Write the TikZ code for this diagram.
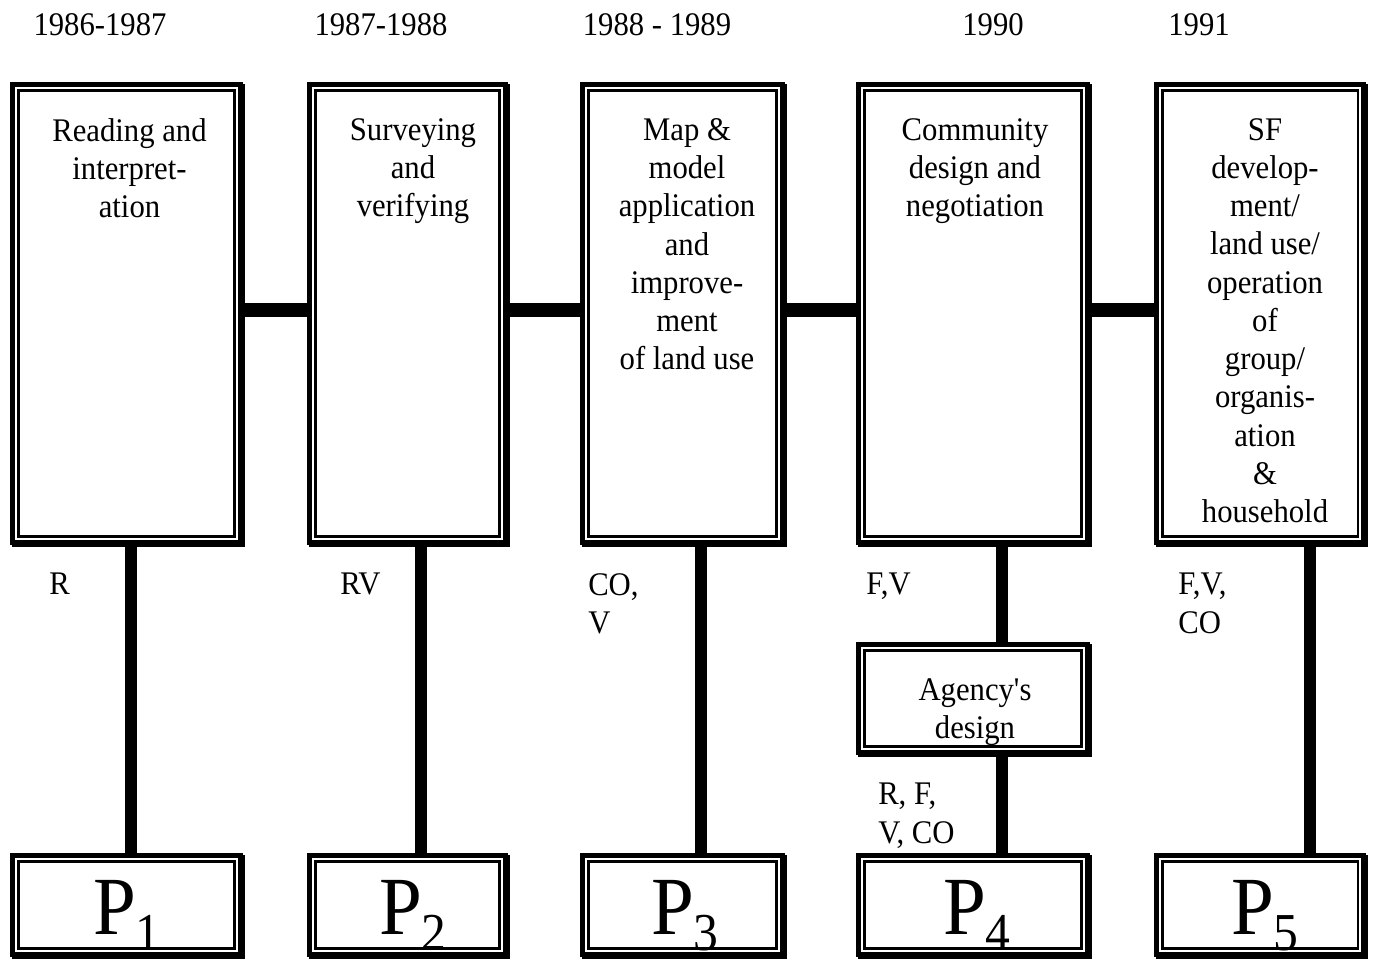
\documentclass[tikz,border=0pt]{standalone}
\usepackage{fontspec}
\newfontfamily\tnr{Liberation Serif}[FakeStretch=0.93]
\usetikzlibrary{calc}
\tikzset{
  boxframe/.style={draw, fill=white, line width=3.75pt, inner sep=0pt, outer sep=0pt, rectangle},
  innerframe/.style={line width=1.9pt},
  hconn/.style={line width=11pt},
  vconn/.style={line width=9pt},
  txt/.style={font=\tnr\fontsize{24.75}{28.7}\selectfont, align=center, inner sep=0pt, anchor=north},
  lbl/.style={font=\tnr\fontsize{24.75}{28.7}\selectfont, align=left, inner sep=0pt, anchor=north west},
  yr/.style={font=\tnr\fontsize{24.75}{28.7}\selectfont, inner sep=0pt},
  ptxt/.style={font=\tnr\fontsize{62}{64}\selectfont, inner sep=0pt, anchor=base},
}
\newcommand\dbox[5]{%
  \fill ({#2+2},{#3+2}) rectangle ({#4},{#5});
  \node[boxframe, minimum width={(#4-#2-2)*0.75pt-3.75pt}, minimum height={(#5-#3-2)*0.75pt-3.75pt}]
    (#1) at ({(#2+#4-2)/2},{(#3+#5-2)/2}) {};
  \draw[innerframe] ($(#1.north west)+(5.75,5.75)$) rectangle ($(#1.south east)+(-5.75,-5.75)$);
}
\newcommand\psub[1]{P\raisebox{-12pt}{\fontsize{40}{42}\selectfont #1}}
\begin{document}
\begin{tikzpicture}[x=0.75pt,y=-0.75pt]
\useasboundingbox (0,0) rectangle (1374,962);
% years
\node[yr] (y1) at (100,24.5) {1986-1987};
\node[yr] (y2) at (381,24.5) {1987-1988};
\node[yr] (y3) at (657,24.5) {1988 - 1989};
\node[yr] (y4) at (993,24.5) {1990};
\node[yr] (y5) at (1199,24.5) {1991};
% top boxes
\dbox{b1}{10}{82}{245}{547}
\dbox{b2}{307}{82}{510}{547}
\dbox{b3}{580}{82}{787}{547}
\dbox{b4}{856}{82}{1092}{547}
\dbox{b5}{1154}{82}{1368}{547}
% agency box
\dbox{ag}{856}{642}{1092}{757}
% P boxes
\dbox{p1}{10}{853}{245}{959}
\dbox{p2}{307}{853}{510}{959}
\dbox{p3}{580}{853}{787}{959}
\dbox{p4}{856}{853}{1092}{959}
\dbox{p5}{1154}{853}{1368}{959}
% box texts
\node[txt] (t1) at (129.5,118) {Reading and\\interpret-\\ation};
\node[txt] (t2) at (413,118) {Surveying\\and\\verifying};
\node[txt] (t3) at (687,118) {Map \&\\model\\application\\and\\improve-\\ment\\of land use};
\node[txt] (t4) at (975,118) {Community\\design and\\negotiation};
\node[txt] (t5) at (1265,118) {SF\\develop-\\ment/\\land use/\\operation\\of\\group/\\organis-\\ation\\\&\\household};
\node[txt] (tag) at (975,678) {Agency's\\design};
% P texts
\node[ptxt] (q1) at (127,934) {\psub{1}};
\node[ptxt] (q2) at (413,934) {\psub{2}};
\node[ptxt] (q3) at (685,934) {\psub{3}};
\node[ptxt] (q4) at (977,934) {\psub{4}};
\node[ptxt] (q5) at (1265,934) {\psub{5}};
% labels
\node[lbl] (l1) at (49,573) {R};
\node[lbl] (l2) at (340,573) {RV};
\node[lbl] (l3) at (588,573) {CO,\\V};
\node[lbl] (l4) at (866,573) {F,V};
\node[lbl] (l5) at (1178,573) {F,V,\\CO};
\node[lbl] (l6) at (878,783) {R, F,\\V, CO};
% horizontal connectors
\coordinate (hy) at (0,310);
\draw[hconn] (b1.east |- hy) -- (b2.west |- hy);
\draw[hconn] (b2.east |- hy) -- (b3.west |- hy);
\draw[hconn] (b3.east |- hy) -- (b4.west |- hy);
\draw[hconn] (b4.east |- hy) -- (b5.west |- hy);
% vertical connectors
\coordinate (v1) at (131,0);
\coordinate (v2) at (421,0);
\coordinate (v3) at (701,0);
\coordinate (v4) at (1002,0);
\coordinate (v5) at (1310,0);
\draw[vconn] (b1.south -| v1) -- (p1.north -| v1);
\draw[vconn] (b2.south -| v2) -- (p2.north -| v2);
\draw[vconn] (b3.south -| v3) -- (p3.north -| v3);
\draw[vconn] (b4.south -| v4) -- (ag.north -| v4);
\draw[vconn] (ag.south -| v4) -- (p4.north -| v4);
\draw[vconn] (b5.south -| v5) -- (p5.north -| v5);
\end{tikzpicture}
\end{document}
